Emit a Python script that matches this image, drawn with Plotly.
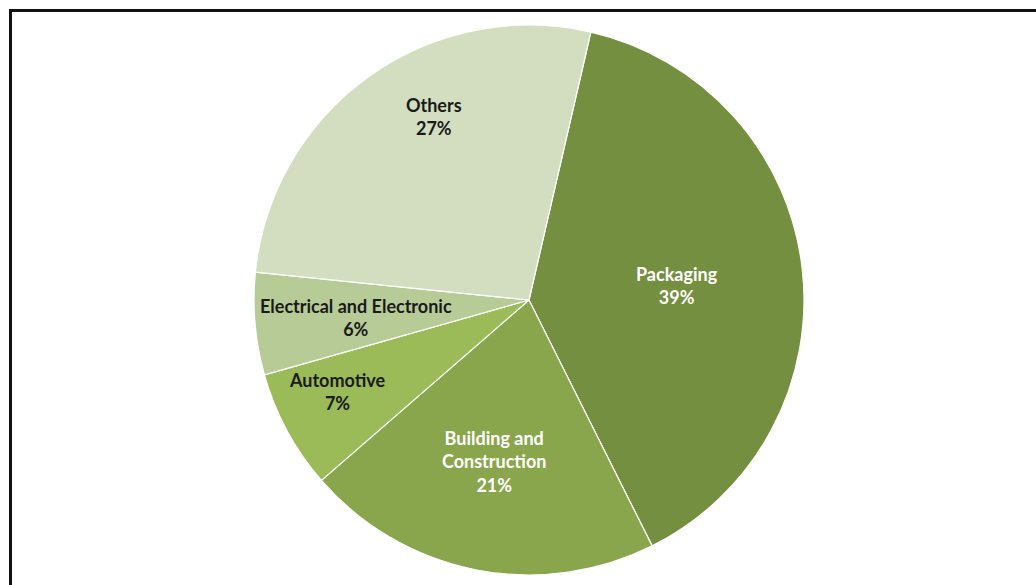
import plotly.graph_objects as go

categories = ["Packaging", "Building and Construction", "Automotive", "Electrical and Electronic", "Others"]
label_lines = ["Packaging", "Building and<br>Construction", "Automotive", "Electrical and Electronic", "Others"]
shares = [39, 21, 7, 6, 27]
colors = ["#758F40", "#8AA64C", "#9BBB59", "#B7CB97", "#D2DEBF"]
text_colors = ["#FFFFFF", "#FFFFFF", "#1A1A1A", "#1A1A1A", "#1A1A1A"]
# label block centres in pixels (layout only)
label_px = [(677, 285), (494, 461), (337, 391), (356, 317), (434, 117)]

W, H = 1036, 585
cx, cy, r = 529, 300, 275

fig = go.Figure(go.Pie(
    labels=categories,
    values=shares,
    sort=False,
    direction="clockwise",
    rotation=13,
    marker=dict(colors=colors, line=dict(color="#FFFFFF", width=1.2)),
    textinfo="none",
    hoverinfo="label+percent",
    showlegend=False,
    domain=dict(x=[(cx - r) / W, (cx + r) / W], y=[(H - cy - r) / H, (H - cy + r) / H]),
))

total = sum(shares)
annotations = []
for lab, v, col, (px, py) in zip(label_lines, shares, text_colors, label_px):
    annotations.append(dict(
        x=px / W, y=1 - py / H, xref="paper", yref="paper",
        xanchor="center", yanchor="middle", showarrow=False, align="center",
        text=f"<b>{lab}<br>{round(100 * v / total)}%</b>",
        font=dict(family="Lato", size=18, color=col),
    ))

fig.update_layout(
    width=W, height=H,
    margin=dict(l=0, r=0, t=0, b=0),
    paper_bgcolor="#FFFFFF",
    plot_bgcolor="#FFFFFF",
    font=dict(family="Lato"),
    annotations=annotations,
    shapes=[
        dict(type="line", xref="paper", yref="paper", x0=10.5 / W, x1=10.5 / W, y0=0, y1=1 - 9.5 / H,
             line=dict(color="#111111", width=3)),
        dict(type="line", xref="paper", yref="paper", x0=9 / W, x1=1, y0=1 - 10.5 / H, y1=1 - 10.5 / H,
             line=dict(color="#111111", width=3)),
    ],
)

fig.write_html("out.html", config={"displayModeBar": False},
               post_script="document.body.style.margin='0';")
